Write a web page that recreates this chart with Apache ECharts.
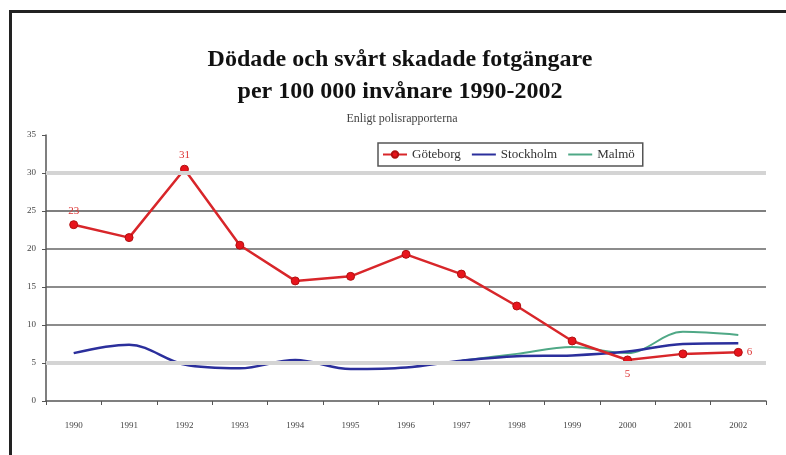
<!DOCTYPE html>
<html>
<head>
<meta charset="utf-8">
<script src="https://cdn.jsdelivr.net/npm/echarts@6/dist/echarts.min.js"></script>
<style>
html,body{margin:0;padding:0;background:#fff;}
#wrap{position:relative;width:786px;height:455px;overflow:hidden;}
#chart{position:absolute;left:0;top:0;width:786px;height:455px;}
#frame{position:absolute;left:9px;top:10px;width:800px;height:500px;border-left:3px solid #222;border-top:3px solid #222;pointer-events:none;}
</style>
</head>
<body>
<div id="wrap"><div id="chart"></div><div id="frame"></div></div>
<script>
const years = ['1990','1991','1992','1993','1994','1995','1996','1997','1998','1999','2000','2001','2002'];
const goteborg = [23.2, 21.5, 30.5, 20.5, 15.8, 16.4, 19.3, 16.7, 12.5, 7.9, 5.4, 6.2, 6.4];
const stockholm = [6.3, 7.4, 4.8, 4.3, 5.4, 4.2, 4.4, 5.3, 5.9, 6.0, 6.5, 7.5, 7.6];
const malmo = [null, null, null, null, null, null, null, 5.3, 6.2, 7.1, 6.3, 9.1, 8.7];
const seriesNames = ['Göteborg', 'Stockholm', 'Malmö'];
const labelledPoints = {0: 'top', 2: 'top', 10: 'bottom', 12: 'right'};

const chart = echarts.init(document.getElementById('chart'));
const serif = 'Liberation Serif';
chart.setOption({
  animation: false,
  title: [
    {text: 'Dödade och svårt skadade fotgängare\nper 100 000 invånare 1990-2002',
     left: 395, top: 39, textAlign: 'center',
     textStyle: {fontFamily: serif, fontWeight: 'bold', fontSize: 24, lineHeight: 32, color: '#111'}},
    {text: 'Enligt polisrapporterna', left: 397, top: 108, textAlign: 'center',
     textStyle: {fontFamily: serif, fontWeight: 'normal', fontSize: 12, color: '#444'}}
  ],
  legend: {
    data: [
      {name: seriesNames[0]},
      {name: seriesNames[1], itemStyle: {opacity: 0}},
      {name: seriesNames[2], itemStyle: {opacity: 0}}
    ],
    left: 378, top: 143,
    itemWidth: 24, itemHeight: 8, itemGap: 10,
    padding: [5, 8, 5, 4],
    borderColor: '#555', borderWidth: 1.5,
    textStyle: {fontFamily: serif, fontSize: 13, color: '#333'}
  },
  grid: {left: 46, right: 20, top: 135, bottom: 54, containLabel: false},
  xAxis: {
    type: 'category', data: years, boundaryGap: true,
    axisLine: {lineStyle: {color: '#555', width: 1.5}},
    axisTick: {show: true, length: 4, lineStyle: {color: '#555'}},
    axisLabel: {fontFamily: serif, fontSize: 9, color: '#444', margin: 20}
  },
  yAxis: {
    type: 'value', min: 0, max: 35, interval: 5,
    axisLine: {show: true, lineStyle: {color: '#555', width: 1.5}},
    axisTick: {show: true, length: 4, lineStyle: {color: '#555'}},
    axisLabel: {fontFamily: serif, fontSize: 9, color: '#444', margin: 10},
    splitLine: {show: true, lineStyle: {
      color: ['rgba(0,0,0,0)', 'rgba(0,0,0,0)', '#666', '#666', '#666', '#555', 'rgba(0,0,0,0)', 'rgba(0,0,0,0)'],
      width: 1.5}}
  },
  series: [
    {name: 'bands', type: 'line', data: [], silent: true, z: 1,
     markLine: {silent: true, symbol: 'none', label: {show: false},
       lineStyle: {color: '#d4d4d4', width: 4, type: 'solid'},
       data: [{yAxis: 5}, {yAxis: 30}]}},
    {name: 'Göteborg', type: 'line', z: 4,
     data: goteborg.map((v, i) => labelledPoints[i] ? {value: v, label: {show: true, position: labelledPoints[i]}} : v),
     symbol: 'circle', symbolSize: 8,
     itemStyle: {color: '#e8141c', borderColor: '#b01010', borderWidth: 1},
     lineStyle: {color: '#d8262a', width: 2.5},
     label: {show: false, fontFamily: serif, fontSize: 11, color: '#d33', distance: 4,
       formatter: p => String(Math.round(p.value))}},
    {name: 'Stockholm', type: 'line', z: 3, smooth: 0.35,
     data: stockholm, symbol: 'none', showSymbol: false,
     itemStyle: {color: '#2b2f9c'},
     lineStyle: {color: '#2b2f9c', width: 2.5}},
    {name: 'Malmö', type: 'line', z: 2, smooth: 0.35,
     data: malmo, symbol: 'none', showSymbol: false,
     itemStyle: {color: '#4fa886'},
     lineStyle: {color: '#4fa886', width: 2}}
  ]
});
</script>
</body>
</html>
